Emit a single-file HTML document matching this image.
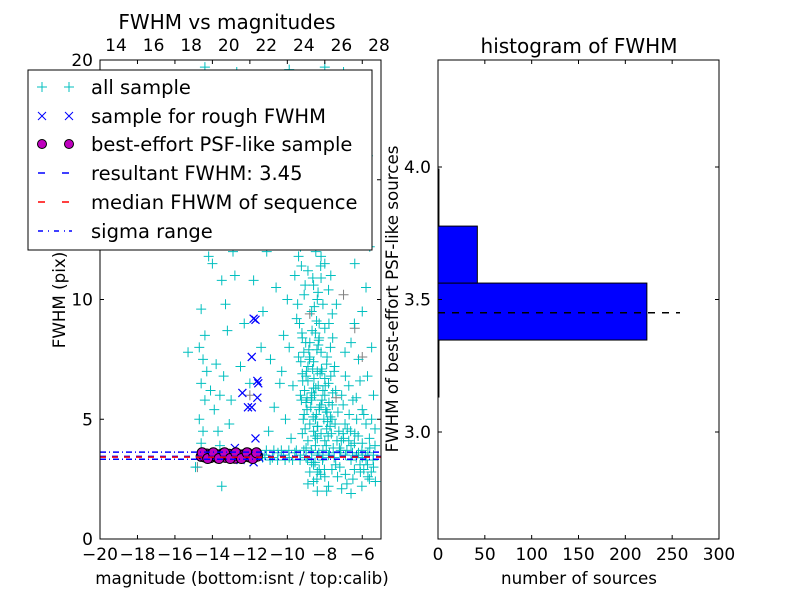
<!DOCTYPE html>
<html><head><meta charset="utf-8"><style>
body{margin:0;background:#fff}
svg{display:block;font-family:"DejaVu Sans","Liberation Sans",sans-serif}
</style></head><body>
<svg id="c" width="800" height="600" viewBox="0 0 800 600">
<rect width="800" height="600" fill="#fff"/>
<g id="left"></g>
<g id="right"></g>
</svg>
<script>
// ---- scatter data ----
const allMag=[-8.5,-8.3,-8.7,-8.1,-8.9,-8.4,-8.6,-8.2,-8.8,-8.5,-8.3,-8.7,-8.4,-8.6,-8.9,-8.2,-8.5,-8.8,-8.4,-8.6,-8.9,-8.3,-8.7,
-9.1,-9.3,-9.0,-9.4,-9.2,-9.5,-9.1,-9.6,-9.3,-9.8,-9.5,-10.0,-9.7,-10.2,-9.9,
-7.9,-7.7,-7.6,-8.0,-7.8,-7.5,-7.9,-7.7,-8.0,-7.6,-7.8,-8.0,-7.4,-7.8,-7.2,-7.6,
-8.4,-8.6,-8.8,-8.2,-8.0,-8.5,-8.9,-9.2,-9.0,-8.1,-8.7,-8.3,-8.0,-8.6,-7.8,-8.4,
-7.0,-6.8,-6.6,-6.4,-6.2,-6.0,-5.8,-5.6,-5.4,-7.2,-6.9,-6.5,-6.1,-5.7,-5.3,-7.3,-7.1,-6.9,-6.7,-6.5,-6.3,-6.0,-5.8,-5.5,-5.4,-6.2,-6.6,-6.0,-5.8,-6.4,-5.6,-6.8,-6.2,-5.7,-6.5,-7.0,-5.5,
-8.45,-8.35,-8.55,-8.65,-8.25,-8.75,-8.15,-8.05,-7.95,-8.85,-8.35,-8.15,-8.95,-7.85,-7.65,-7.45,-7.35,-7.55,-7.75,-7.25,-7.15,
-11.2,-10.8,-10.5,-10.2,-9.9,-9.6,-9.3,-9.0,-8.7,-8.4,-8.1,-7.8,-7.5,-7.2,-6.9,-6.6,-6.3,-6.0,-5.7,-5.4,
-11.0,-10.7,-10.4,-10.9,-10.2,-11.3,-10.6,-11.1,-10.3,-10.8,-11.5,-10.5,-11.8,-11.4,-12.0,-12.3,-11.9,-12.5,-12.8,-13.0,-12.6,-11.6,-10.0,-9.8,-10.1,-9.7,-10.3,-9.9,-10.0,-9.4,
-14.6,-14.5,-14.7,-14.4,-14.6,-14.3,-14.5,-14.7,-14.4,-14.2,-14.0,-14.6,-15.3,-13.8,-13.6,-13.9,-13.4,-13.2,-13.5,-12.9,-13.7,-13.1,-14.9,-13.5,-13.6,-14.1,-13.3,-14.8,-15.0,-13.9,-12.7,-14.4,
-8.6,-8.2,-8.8,-8.4,-9.0,-8.0,-8.5,-8.7,-8.3,-8.1,-9.2,-7.9,-8.6,-8.4,-8.9,-8.2];
const allFwhm=[5.0,5.4,5.8,6.2,6.6,7.0,7.4,7.8,8.2,8.6,9.0,9.5,10.0,10.6,11.2,11.8,12.5,13.2,14.0,15.0,16.2,17.5,19.0,
5.2,6.0,6.8,7.6,8.4,9.2,10.2,11.0,12.2,13.0,14.5,15.5,17.0,18.5,19.6,
4.6,5.1,5.6,6.0,6.5,7.0,7.3,8.0,8.8,9.4,10.4,11.5,12.6,14.2,15.8,17.2,
4.2,4.5,4.8,4.4,4.1,3.9,4.1,4.4,3.8,3.7,3.2,2.9,2.6,2.4,2.2,2.0,
4.2,4.6,3.9,4.4,3.6,4.0,3.3,3.8,3.0,3.0,2.7,2.5,2.8,2.6,2.4,5.3,6.0,6.8,5.2,5.8,5.0,5.4,4.8,5.0,6.0,7.5,8.2,9.5,10.5,11.5,12.2,13.0,14.5,16.0,17.8,19.5,8.0,
5.2,6.4,6.0,7.1,6.9,5.5,5.8,5.0,5.4,7.9,8.1,7.0,5.9,4.9,4.4,4.8,4.1,3.8,3.6,4.5,3.7,
3.5,3.4,3.6,3.5,3.4,3.6,3.5,3.4,3.6,3.5,3.4,3.5,3.4,3.6,3.5,3.3,3.5,3.4,3.6,3.5,
4.5,5.5,6.5,7.5,8.5,9.5,10.5,12.0,13.5,15.0,17.0,19.0,10.8,8.0,6.5,9.0,14.5,7.2,11.0,5.8,16.0,18.5,16.8,4.2,5.0,6.4,7.0,8.0,10.0,11.8,
4.0,4.5,5.0,5.8,6.5,7.0,7.5,8.0,8.5,11.8,11.5,9.6,7.8,7.3,6.0,5.4,6.8,8.7,10.8,12.0,4.5,4.8,3.0,2.2,3.9,6.2,9.8,13.5,16.0,18.0,19.5,19.7,
6.3,5.6,7.6,4.7,5.7,6.7,4.3,6.1,8.4,9.8,6.9,5.3,3.1,2.8,7.2,10.9];
const coreMag=[-8.52,-8.38,-8.62,-8.28,-8.72,-8.48,-8.58,-8.18,-8.82,-8.42,-8.32,-8.68,-8.44,-8.56,-8.36,-8.64,-8.22,
-9.05,-9.15,-8.95,-9.25,-9.08,-9.18,-8.98,-9.28,-9.12,-9.02,-9.22,-9.35,-9.45,-9.05,-9.25,-9.15,-9.35,-9.55,
-7.92,-7.82,-7.72,-7.62,-7.88,-7.78,-7.58,-7.98,-7.68,-7.48,-7.88,-7.58,-7.78,-7.38,-7.68,-7.28,
-7.22,-7.12,-7.02,-6.92,-6.82,-6.72,-6.62,-6.52,-6.42,-6.32,-6.22,-6.12,-6.02,-5.92,-5.82,-5.72,-5.62,-5.52,-5.42,-5.32,-7.32,-6.82,-6.42,-6.02,-5.62,-7.42,-7.02,-6.72,-6.32,-6.12,-5.92,-5.72,-5.32,-6.92,-6.42,
-8.12,-8.32,-8.52,-8.72,-8.92,-9.12,-9.32,-9.52,-9.72,-9.92,-10.12,-10.32,-10.52,-10.72,-10.92,-11.12,-11.32,
-8.02,-8.22,-8.42,-7.62,-7.42,-8.8,-8.9,-7.9,-7.1,-6.6,
-8.48,-8.62,-8.32,-8.78,-8.42,-8.12,-8.6,-8.0,-9.0,-7.5];
const coreFwhm=[4.3,4.7,5.1,5.5,5.9,6.3,6.7,7.1,7.5,7.9,8.3,8.7,9.1,9.7,10.3,10.9,11.4,
4.6,5.0,5.4,5.8,6.2,6.6,7.0,7.4,7.8,8.2,8.6,9.0,9.8,10.6,11.4,12.8,13.6,16.0,
3.9,4.3,4.7,5.0,5.3,5.7,6.1,6.4,6.8,7.2,7.6,8.4,9.0,9.8,11.0,13.5,
3.8,4.1,4.4,4.8,3.7,4.1,4.5,3.6,4.0,3.4,4.3,3.1,3.7,2.9,3.5,3.1,4.2,2.8,3.3,3.9,2.6,2.3,2.9,2.2,2.5,6.2,5.6,6.4,5.9,6.6,5.2,6.8,4.6,7.8,9.0,
3.3,3.6,3.2,3.7,3.3,3.7,3.3,3.7,3.3,3.7,3.3,3.7,3.3,3.7,3.3,3.7,3.4,
2.9,2.7,2.5,2.9,3.1,2.8,2.3,2.0,2.1,1.9,
12.0,13.5,14.6,15.6,16.8,18.0,18.8,19.7,17.6,18.6];
const grayMag=[-12.0,-9.2,-8.0,-7.0,-6.4,-14.8,-10.5,-8.8,-7.4,-6.0];
const grayFwhm=[6.0,12.5,14.8,10.2,8.8,3.0,18.2,9.4,5.9,7.6];
const roughMag=[-11.8,-11.7,-11.9,-11.6,-11.55,-11.6,-12.4,-12.1,-11.9,-11.7,-12.8,-11.8,-12.5,-13.5,-14.0,-12.0,-11.5];
const roughFwhm=[9.2,9.15,7.6,6.6,6.5,5.9,6.1,5.5,5.5,4.2,3.8,3.2,3.3,3.4,3.5,3.6,3.4];
const bestMag=[-14.6,-14.5,-14.4,-14.3,-14.2,-14.1,-14.0,-13.9,-13.8,-13.7,-13.6,-13.5,-13.4,-13.3,-13.2,-13.1,-13.0,-12.9,-12.8,-12.7,-12.6,-12.5,-12.4,-12.3,-12.2,-12.1,-12.0,-11.9,-11.8,-11.7,-11.6,
-14.55,-14.25,-13.95,-13.65,-13.35,-13.05,-12.75,-12.45,-12.15,-11.85,-11.65];
const bestFwhm=[3.45,3.52,3.42,3.55,3.48,3.4,3.5,3.57,3.44,3.38,3.52,3.46,3.58,3.41,3.5,3.54,3.43,3.49,3.37,3.56,3.47,3.51,3.4,3.53,3.45,3.58,3.42,3.5,3.39,3.55,3.46,
3.6,3.36,3.6,3.36,3.6,3.36,3.6,3.36,3.6,3.36,3.6];
const resultFwhm=3.45, medianFwhm=3.42, sigmaLo=3.33, sigmaHi=3.625;
const xTicksBottom=[-20,-18,-16,-14,-12,-10,-8,-6];
const xTicksTop=[14,16,18,20,22,24,26,28];
const yTicksLeft=[0,5,10,15,20];
// ---- histogram data ----
const binEdges=[3.132,3.347,3.562,3.777,3.992];
const binCounts=[1,223,42,1];
const histXTicks=[0,50,100,150,200,250,300];
const histYTicks=[3.0,3.5,4.0];

const NS="http://www.w3.org/2000/svg";
function mk(parent,tag,attrs,text){const e=document.createElementNS(NS,tag);for(const k in attrs)e.setAttribute(k,attrs[k]);if(text!==undefined)e.textContent=text;parent.appendChild(e);return e;}
const L=document.getElementById('left'), R=document.getElementById('right');
const lx0=100,lx1=381,ly0=60,ly1=539;
const sx=m=>lx0+(m+20)/15*(lx1-lx0);
const sxTop=m=>116+(m-14)*(379-116)/14;
const sy=v=>ly1-v/20*(ly1-ly0);
mk(L,'defs',{}).innerHTML='<clipPath id="lc"><rect x="100" y="60" width="281" height="479"/></clipPath>';
const pts=mk(L,'g',{'clip-path':'url(#lc)'});
function plus(g,x,y,col){return mk(g,'path',{d:`M${x-5},${y}h10M${x},${y-5}v10`,stroke:col,'stroke-width':1,fill:'none'});}
for(let i=0;i<grayMag.length;i++){const p=plus(pts,sx(grayMag[i]),sy(grayFwhm[i]),'#808080');

}
const cm=allMag.concat(coreMag), cf=allFwhm.concat(coreFwhm);
for(let i=0;i<cm.length;i++){const p=plus(pts,sx(cm[i]),sy(cf[i]),'#00bfbf');

}
for(let i=0;i<roughMag.length;i++){const x=sx(roughMag[i]),y=sy(roughFwhm[i]);const p=mk(pts,'path',{d:`M${x-4},${y-4}l8,8M${x-4},${y+4}l8,-8`,stroke:'#0000ff','stroke-width':1.2});

}
for(let i=0;i<bestMag.length;i++){const c=mk(pts,'circle',{cx:sx(bestMag[i]),cy:sy(bestFwhm[i]),r:5,fill:'#bf00bf',stroke:'#000','stroke-width':1});

}
function hline(v,col,dash,name){const l=mk(pts,'line',{x1:lx0,x2:lx1,y1:sy(v),y2:sy(v),stroke:col,'stroke-width':1.5,'stroke-dasharray':dash});

}
hline(resultFwhm,'#0000ff','6,6','resultant-fwhm-line');
hline(medianFwhm,'#ff0000','6,6','median-fwhm-line');
hline(sigmaLo,'#0000ff','6,3,1,3','sigma-low-line');
hline(sigmaHi,'#0000ff','6,3,1,3','sigma-high-line');
mk(L,'rect',{x:lx0,y:ly0,width:lx1-lx0,height:ly1-ly0,fill:'none',stroke:'#000','stroke-width':1});
for(const t of xTicksBottom){const x=sx(t);mk(L,'path',{d:`M${x},${ly1}v-4M${x},${ly0}v4`,stroke:'#000'});
const tx=mk(L,'text',{x:x,y:560,'text-anchor':'middle','font-size':17},(t<0?'\u2212':'')+Math.abs(t));

}
for(const t of xTicksTop){const x=sxTop(t);
const tx=mk(L,'text',{x:x,y:51,'text-anchor':'middle','font-size':17},String(t));

}
for(const t of yTicksLeft){const y=sy(t);mk(L,'path',{d:`M${lx0},${y}h4M${lx1},${y}h-4`,stroke:'#000'});
const tx=mk(L,'text',{x:93,y:y+6,'text-anchor':'end','font-size':17},String(t));

}
const rx0=438,rx1=719;
const hx=c=>rx0+c/300*(rx1-rx0);
const hy=v=>432-(v-3.0)*265;
for(let i=0;i<binCounts.length;i++){const y1=hy(binEdges[i]),y2=hy(binEdges[i+1]);
const b=mk(R,'rect',{x:rx0,y:y2,width:hx(binCounts[i])-rx0,height:y1-y2,fill:'#0000ff',stroke:'#000','stroke-width':1});

}
const dl=mk(R,'line',{x1:rx0,x2:680,y1:hy(resultFwhm),y2:hy(resultFwhm),stroke:'#000','stroke-width':1.5,'stroke-dasharray':'7,7'});


mk(R,'rect',{x:rx0,y:ly0,width:rx1-rx0,height:ly1-ly0,fill:'none',stroke:'#000'});
for(const t of histXTicks){const x=hx(t);mk(R,'path',{d:`M${x},${ly1}v-4M${x},${ly0}v4`,stroke:'#000'});
const tx=mk(R,'text',{x:x,y:560,'text-anchor':'middle','font-size':17},String(t));

}
for(const t of histYTicks){const y=hy(t);mk(R,'path',{d:`M${rx0},${y}h4M${rx1},${y}h-4`,stroke:'#000'});
const tx=mk(R,'text',{x:431,y:y+6,'text-anchor':'end','font-size':17},t.toFixed(1));

}
</script>
<svg style="position:absolute;left:0;top:0" width="800" height="600">
<text x="227" y="29" text-anchor="middle" font-size="20" font-family="DejaVu Sans,sans-serif">FWHM vs magnitudes</text>
<text x="579" y="53" text-anchor="middle" font-size="20" font-family="DejaVu Sans,sans-serif">histogram of FWHM</text>
<text x="242" y="584" text-anchor="middle" font-size="16.7" font-family="DejaVu Sans,sans-serif">magnitude (bottom:isnt / top:calib)</text>
<text x="579" y="584" text-anchor="middle" font-size="16.7" font-family="DejaVu Sans,sans-serif">number of sources</text>
<text transform="translate(65,300) rotate(-90)" text-anchor="middle" font-size="16.7" font-family="DejaVu Sans,sans-serif">FWHM (pix)</text>
<text transform="translate(398,299) rotate(-90)" text-anchor="middle" font-size="16.7" font-family="DejaVu Sans,sans-serif">FWHM of best-effort PSF-like sources</text>
<g font-family="DejaVu Sans,sans-serif" font-size="19.5">
<rect x="28" y="70" width="344" height="180" fill="#fff" stroke="#000"/>
<g><path d="M37,87h10M42,82v10M64,87h10M69,82v10" stroke="#00bfbf"/><text x="91" y="94">all sample</text></g>
<g><path d="M38,112l8,8M38,120l8,-8M65,112l8,8M65,120l8,-8" stroke="#0000ff"/><text x="91" y="123">sample for rough FWHM</text></g>
<g><circle cx="42" cy="144" r="4.5" fill="#bf00bf" stroke="#000"/><circle cx="69" cy="144" r="4.5" fill="#bf00bf" stroke="#000"/><text x="91" y="151">best-effort PSF-like sample</text></g>
<g><path d="M38,173h7M62,173h7" stroke="#0000ff" stroke-width="1.5"/><text x="91" y="180">resultant FWHM: 3.45</text></g>
<g><path d="M38,202h7M62,202h7" stroke="#ff0000" stroke-width="1.5"/><text x="91" y="209">median FHWM of sequence</text></g>
<g><path d="M38,231h5M48,231h1M54,231h5M64,231h1M69,231h3" stroke="#0000ff" stroke-width="1.5"/><text x="91" y="238">sigma range</text></g>
</g>
</svg>
</body></html>
